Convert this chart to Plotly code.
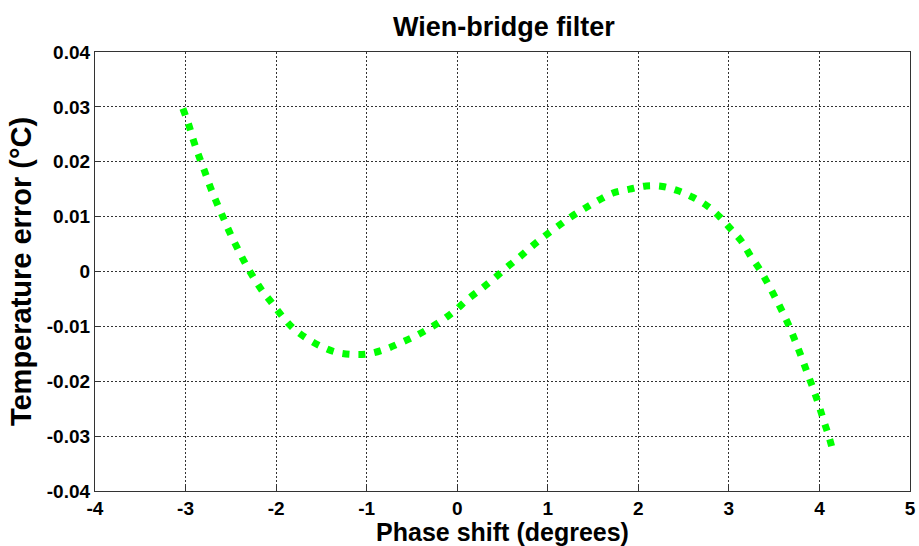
import plotly.graph_objects as go

phase_shift = [-3.03, -2.966, -2.911, -2.852, -2.79, -2.725, -2.655, -2.586, -2.512, -2.432,
               -2.348, -2.257, -2.154, -2.048, -1.93, -1.807, -1.66, -1.508, -1.339, -1.152,
               -0.98, -0.80, -0.626, -0.466, -0.312, -0.158, -0.015, 0.12, 0.27, 0.405,
               0.544, 0.686, 0.818, 0.961, 1.107, 1.253, 1.406, 1.563, 1.72, 1.903,
               2.086, 2.268, 2.44, 2.605, 2.765, 2.897, 3.018, 3.135, 3.237, 3.336,
               3.427, 3.511, 3.596, 3.672, 3.738, 3.804, 3.866, 3.932, 3.994, 4.045,
               4.103, 4.16]
temp_error = [0.0297, 0.0268, 0.0238, 0.0210, 0.0183, 0.0153, 0.0125, 0.0099, 0.0071, 0.0044,
              0.0017, -0.0009, -0.0035, -0.0057, -0.0082, -0.0104, -0.0122, -0.0136, -0.0147, -0.0151,
              -0.0150, -0.0142, -0.0130, -0.0118, -0.0104, -0.0088, -0.0070, -0.0050, -0.0031, -0.0013,
              0.0007, 0.0026, 0.0045, 0.0064, 0.0082, 0.0099, 0.0115, 0.0130, 0.0143, 0.0150,
              0.0156, 0.0155, 0.0147, 0.0135, 0.0119, 0.0100, 0.0078, 0.0056, 0.0029, 0.0005,
              -0.0021, -0.0047, -0.0075, -0.0102, -0.0129, -0.0157, -0.0185, -0.0214, -0.0244, -0.0271,
              -0.0300, -0.0334]

x_ticks = [-4, -3, -2, -1, 0, 1, 2, 3, 4, 5]
x_tick_labels = ["-4", "-3", "-2", "-1", "0", "1", "2", "3", "4", "5"]
y_ticks = [0.04, 0.03, 0.02, 0.01, 0, -0.01, -0.02, -0.03, -0.04]
y_tick_labels = ["0.04", "0.03", "0.02", "0.01", "0", "-0.01", "-0.02", "-0.03", "-0.04"]

font_family = "Liberation Sans, Arial, sans-serif"

fig = go.Figure()
fig.add_trace(go.Scatter(
    x=phase_shift, y=temp_error, mode="lines",
    line=dict(color="#00FF00", width=7, dash="7px,9px", shape="spline"),
    showlegend=False,
))

axis_common = dict(
    showline=True, linecolor="#333333", linewidth=1.3, mirror=True,
    showgrid=True, gridcolor="#333333", gridwidth=1, griddash="2px,2px",
    zeroline=False, ticks="inside", ticklen=5, tickcolor="#333333",
    ticklabeloverflow="allow",
    tickfont=dict(family=font_family, size=19, color="black", weight="bold"),
)

fig.update_layout(
    width=919, height=546,
    margin=dict(l=95, r=3, t=52, b=55),
    paper_bgcolor="white", plot_bgcolor="white",
    title=dict(text="Wien-bridge filter", x=504 / 919, xanchor="center", y=0.952, yanchor="middle",
               font=dict(family=font_family, size=27, color="black", weight="bold")),
    xaxis=dict(range=[-4, 5], tickvals=x_ticks, ticktext=x_tick_labels,
               title=dict(text="Phase shift (degrees)", standoff=6,
                          font=dict(family=font_family, size=25, color="black", weight="bold")),
               **axis_common),
    yaxis=dict(range=[-0.04, 0.04], tickvals=y_ticks, ticktext=y_tick_labels,
               title=dict(text="Temperature error (°C)", standoff=6,
                          font=dict(family=font_family, size=29, color="black", weight="bold")),
               **axis_common),
)

fig.write_html("out.html")
